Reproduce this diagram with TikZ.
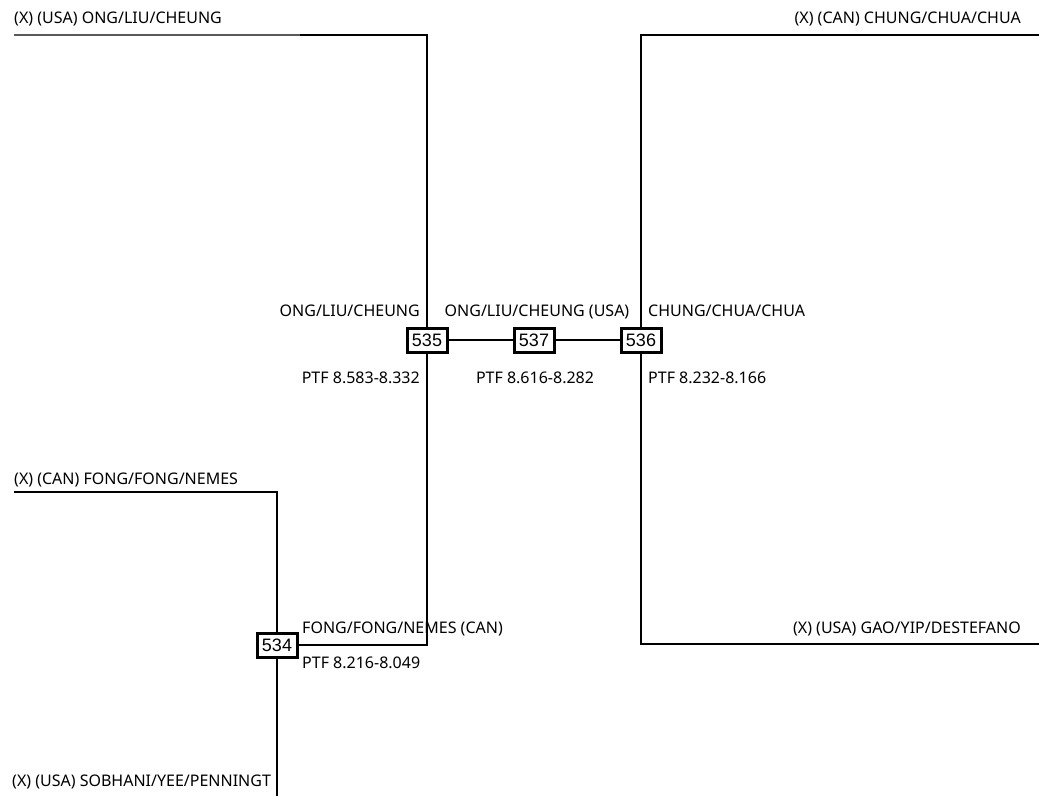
\documentclass[tikz,border=0pt]{standalone}
\usepackage{fontspec}
\setmainfont{Noto Sans}
\newfontfamily\boxfont{Liberation Sans}
\begin{document}
\begin{tikzpicture}[x=1pt,y=-1pt,
  lbl/.style={font=\fontsize{16}{18}\selectfont, inner sep=0pt},
  numbox/.style={draw, line width=3pt, font=\boxfont\fontsize{18}{20}\selectfont, minimum width=40pt, minimum height=24pt, inner sep=0pt, fill=white},
  wire/.style={line width=2pt}]
\useasboundingbox[fill=white] (0,0) rectangle (1039,796);
% coordinates
\coordinate (tl) at (14,35);
\coordinate (tlm) at (300,35);
\coordinate (tr) at (1039,35);
\coordinate (br) at (1039,644);
\coordinate (ml) at (14,492);
\coordinate (bot) at (277,796);
% boxes
\node[numbox] (b535) at (427,340) {535};
\node[numbox] (b537) at (534,340) {537};
\node[numbox] (b536) at (641,340) {536};
\node[numbox] (b534) at (277,645) {534};
% connectors
\draw[wire, gray!70!black] (tl) -- (tlm);
\draw[wire] (tlm) -| (b535);
\draw[wire] (b535) -- (b537);
\draw[wire] (b537) -- (b536);
\draw[wire] (b536) |- (tr);
\draw[wire] (b536) |- (br);
\draw[wire] (b535) |- (b534);
\draw[wire] (ml) -| (b534);
\draw[wire] (b534) -- (bot);
\node[numbox] at (b535) {535};
\node[numbox] at (b537) {537};
\node[numbox] at (b536) {536};
\node[numbox] at (b534) {534};
% labels
\node[lbl, anchor=base west] (t1) at (14,23) {(X) (USA) ONG/LIU/CHEUNG};
\node[lbl, anchor=base east] (t2) at (1021,23) {(X) (CAN) CHUNG/CHUA/CHUA};
\node[lbl, anchor=base east] (t3) at (1021,633) {(X) (USA) GAO/YIP/DESTEFANO};
\node[lbl, anchor=base west] (t4) at (14,484) {(X) (CAN) FONG/FONG/NEMES};
\node[lbl, anchor=base west] (t5) at (12,786) {(X) (USA) SOBHANI/YEE/PENNINGT};
\node[lbl, anchor=base east] (t6) at (420,316) {ONG/LIU/CHEUNG};
\node[lbl, anchor=base] (t7) at (537,316) {ONG/LIU/CHEUNG (USA)};
\node[lbl, anchor=base west] (t8) at (648,316) {CHUNG/CHUA/CHUA};
\node[lbl, anchor=base east] (t9) at (420,383) {PTF 8.583-8.332};
\node[lbl, anchor=base] (t10) at (535,383) {PTF 8.616-8.282};
\node[lbl, anchor=base west] (t11) at (648,383) {PTF 8.232-8.166};
\node[lbl, anchor=base west] (t12) at (302,633) {FONG/FONG/NEMES (CAN)};
\node[lbl, anchor=base west] (t13) at (302,668) {PTF 8.216-8.049};
\end{tikzpicture}
\end{document}
